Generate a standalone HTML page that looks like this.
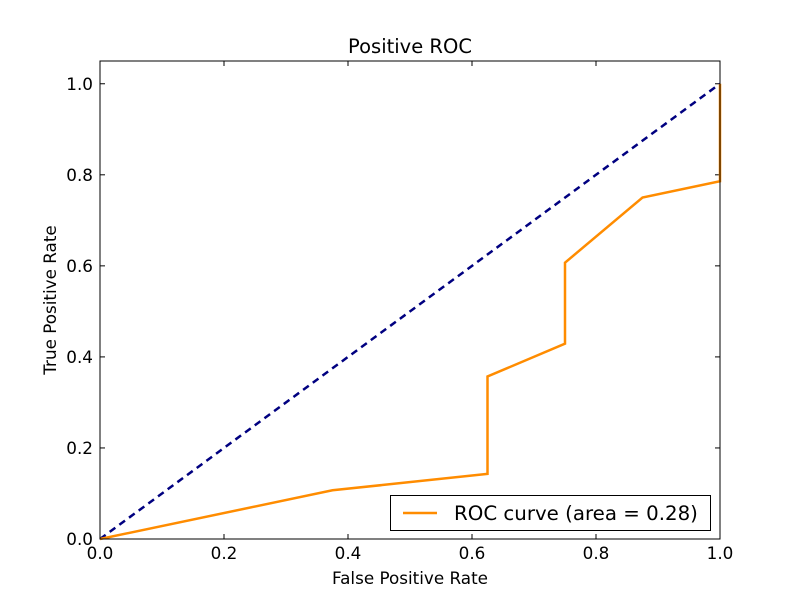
<!DOCTYPE html>
<html><head><meta charset="utf-8"><style>
body{margin:0;background:#fff}
svg{display:block;font-family:"DejaVu Sans","Liberation Sans",sans-serif}
</style></head><body>
<svg id="chart" width="800" height="600">
<rect width="800" height="600" fill="#fff"/>
<text x="410" y="53" text-anchor="middle" font-size="19.5">Positive ROC</text>
<text x="410" y="584" text-anchor="middle" font-size="16.8">False Positive Rate</text>
<text transform="translate(56,300) rotate(-90)" text-anchor="middle" font-size="16.8">True Positive Rate</text>
<g id="ticks"></g>
<g id="series"></g>
<rect x="100" y="61" width="620" height="478" fill="none" stroke="#000" stroke-width="1"/>
<g>
<rect x="390.5" y="495.5" width="320" height="35" fill="#fff" stroke="#000"/>
<line x1="403" y1="513" x2="437" y2="513" stroke="#ff8c00" stroke-width="2.5"/>
<text x="454" y="520" font-size="19.8">ROC curve (area = 0.28)</text>
</g>
</svg>
<script>
const fpr=[0,0.375,0.625,0.625,0.75,0.75,0.875,1,1];
const tpr=[0,0.107,0.143,0.357,0.429,0.607,0.75,0.786,1];
const diagX=[0,1];
const diagY=[0,1];
const xTicks=[0,0.2,0.4,0.6,0.8,1.0];
const yTicks=[0,0.2,0.4,0.6,0.8,1.0];
const NS="http://www.w3.org/2000/svg";
const L=100,R=720,T=61,B=539,YMAX=1.05;
const sx=v=>L+v*(R-L);
const sy=v=>B-v/YMAX*(B-T);
const tg=document.getElementById('ticks');
function mk(tag,attrs,parent){const e=document.createElementNS(NS,tag);for(const k in attrs)e.setAttribute(k,attrs[k]);parent.appendChild(e);return e;}
xTicks.forEach(v=>{
  const x=sx(v);
  const t1=mk('line',{x1:x,y1:B,x2:x,y2:B-5,stroke:'#000'},tg);
  
  
  const t2=mk('line',{x1:x,y1:T,x2:x,y2:T+5,stroke:'#000'},tg);
  
  
  const lb=mk('text',{x:x,y:B+20,'text-anchor':'middle','font-size':'16.8'},tg);
  lb.textContent=v.toFixed(1);
  
  
});
yTicks.forEach(v=>{
  const y=sy(v);
  const t1=mk('line',{x1:L,y1:y,x2:L+5,y2:y,stroke:'#000'},tg);
  
  
  const t2=mk('line',{x1:R,y1:y,x2:R-5,y2:y,stroke:'#000'},tg);
  
  
  const lb=mk('text',{x:L-7,y:y+6,'text-anchor':'end','font-size':'16.8'},tg);
  lb.textContent=v.toFixed(1);
  
  
});
const sg=document.getElementById('series');
const d=mk('polyline',{points:diagX.map((x,i)=>sx(x)+','+sy(diagY[i])).join(' '),fill:'none',stroke:'#000080','stroke-width':2.5,'stroke-dasharray':'7,5'},sg);


const c=mk('polyline',{points:fpr.map((x,i)=>sx(x)+','+sy(tpr[i])).join(' '),fill:'none',stroke:'#ff8c00','stroke-width':2.5},sg);


</script>
</body></html>
